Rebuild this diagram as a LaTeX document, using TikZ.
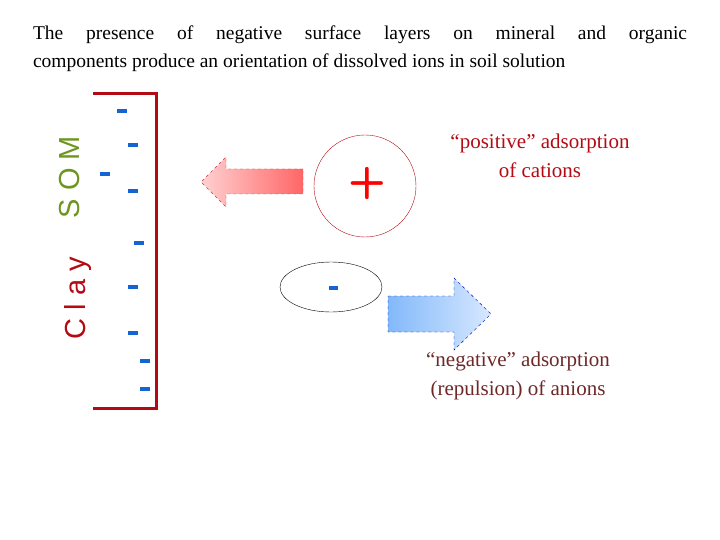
\documentclass[tikz,border=0pt]{standalone}
\usepackage{fontspec}
\setmainfont{Liberation Serif}
\newfontfamily\sansf{Liberation Sans}
\usetikzlibrary{shapes.geometric}
\definecolor{dred}{RGB}{180,10,20}
\definecolor{dblue}{RGB}{20,100,210}
\definecolor{sgreen}{RGB}{110,150,30}
\definecolor{brn}{RGB}{110,40,40}
\definecolor{bl1}{RGB}{130,185,250}
\definecolor{bl2}{RGB}{215,232,255}
\begin{document}
\begin{tikzpicture}[x=1pt,y=-1pt,
 ch/.style={fill=dblue,minimum width=10pt,minimum height=3.5pt,inner sep=0pt}]
\useasboundingbox (0,0) rectangle (720,540);
\node[text width=654pt,align=justify,font=\fontsize{19.5}{28}\selectfont,inner sep=0pt] (title) at (360,49)
 {\hyphenpenalty=10000 The presence of negative surface layers on mineral and organic\linebreak components produce an orientation of dissolved ions in soil solution};
\draw[dred,line width=3pt] (93,94) coordinate (b1) -- (156,94) -- (156,408) -- (93,408) coordinate (b2);
\foreach \x/\y [count=\i] in {122/111,133/145,105/174,133/191,139/243,133/287,133/333,145/361,145/389}
 \node[ch] (d\i) at (\x,\y) {};
\node[rotate=90,text=sgreen,font=\sansf\fontsize{29}{29}\selectfont] (som) at (70,177) {S O M};
\node[rotate=90,text=dred,font=\sansf\fontsize{29}{29}\selectfont] (clay) at (78,298) {C l a y};
\draw[dashed,dred!80,left color=red!18,right color=red!60!white]
 (303,169) -- (226,169) -- (226,157) -- (201,182) -- (226,207) -- (226,194) -- (303,194) -- cycle;
\node[circle,draw=dred,minimum size=102pt,inner sep=0pt] (cat) at (365,186) {};
\node[text=red,font=\sffamily\bfseries\fontsize{44}{44}\selectfont] (plus) at (367,184) {+};
\node[ellipse,draw=black,minimum width=102pt,minimum height=50pt,inner sep=0pt] (an) at (331,287) {};
\node[ch,minimum width=9pt] (minus) at (333,288) {};
\draw[dashed,draw=blue!60!black,left color=bl1,right color=bl2]
 (388,296) -- (454,296) -- (454,278) -- (491,314) -- (454,350) -- (454,332) -- (388,332) -- cycle;
\node[text=dred,font=\fontsize{21}{29}\selectfont,align=center] (pos) at (540,156) {“positive” adsorption\\of cations};
\node[text=brn,font=\fontsize{21}{29}\selectfont,align=center] (neg) at (518,376) {“negative” adsorption\\(repulsion) of anions};
\end{tikzpicture}
\end{document}
